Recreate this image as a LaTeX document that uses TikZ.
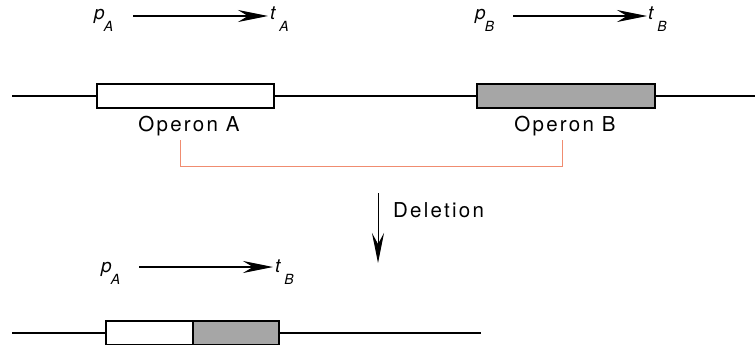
\documentclass[tikz,border=0pt]{standalone}
\usepackage{fontspec}
\setmainfont{TeX Gyre Heros}
\usetikzlibrary{arrows.meta}
\definecolor{salmon}{RGB}{240,140,112}
\definecolor{opgray}{RGB}{166,166,166}
\tikzset{
  dna/.style={line width=2pt,black},
  opbox/.style={draw=black,line width=1.3pt,minimum height=24pt,inner sep=0pt},
  lbl/.style={font=\fontsize{20.5}{23}\selectfont\addfontfeatures{LetterSpace=11},inner sep=0pt},
  tx/.style={-{Stealth[length=30pt,width=12pt,inset=10pt]},line width=1.1pt},
  pt/.style={inner sep=0pt,anchor=base west}
}
\newcommand{\sym}[2]{\fontsize{19}{21}\selectfont\itshape #1\hspace{-1pt}\raisebox{-12pt}{\fontsize{14}{16}\selectfont\itshape #2}}
\newcommand{\symt}[2]{\fontsize{19}{21}\selectfont\itshape #1\hspace{4pt}\raisebox{-12pt}{\fontsize{14}{16}\selectfont\itshape #2}}
\begin{document}
\begin{tikzpicture}[x=1pt,y=-1pt]
\useasboundingbox (0,0) rectangle (755,345);
% top DNA
\coordinate (l0) at (12,96);
\coordinate (r0) at (755,96);
\draw[dna] (l0) -- (r0);
\node[opbox,fill=white,minimum width=177pt] (A) at (185.5,96) {};
\node[opbox,fill=opgray,minimum width=178pt] (B) at (566,96) {};
\node[lbl,anchor=base] (la) at (189,131) {Operon A};
\node[lbl,anchor=base] (lb) at (565,131) {Operon B};
% bracket
\coordinate (b1) at (180,140);
\coordinate (b2) at (562,140);
\draw[salmon,line width=1pt] (b1) -- ++(0,26) -| (b2);
% transcripts top
\node[pt] (pA) at (94,20) {\sym{p}{A}};
\node[pt] (tA) at (270,20) {\symt{t}{A}};
\coordinate (sA) at (133,16);
\coordinate (eA) at (268,16);
\draw[tx] (sA) -- (eA);
\node[pt] (pB) at (475,20) {\sym{p}{B}};
\node[pt] (tB) at (648,20) {\symt{t}{B}};
\coordinate (sB) at (513,16);
\coordinate (eB) at (647,16);
\draw[tx] (sB) -- (eB);
% deletion
\coordinate (d1) at (378,193);
\coordinate (d2) at (378,263);
\draw[-{Stealth[length=30pt,width=12pt,inset=11pt]},line width=1pt] (d1) -- (d2);
\node[lbl,anchor=base west] (del) at (393,217) {Deletion};
% bottom
\node[pt] (pA2) at (101,272) {\sym{p}{A}};
\node[pt] (tB2) at (275,272) {\symt{t}{B}};
\coordinate (s2) at (139,267);
\coordinate (e2) at (273,267);
\draw[tx] (s2) -- (e2);
\coordinate (l1) at (12,333);
\coordinate (r1) at (481,333);
\draw[dna] (l1) -- (r1);
\node[opbox,fill=white,minimum width=87pt] (A2) at (149.5,333) {};
\node[opbox,fill=opgray,minimum width=86pt] (B2) at (236,333) {};
\end{tikzpicture}
\end{document}
